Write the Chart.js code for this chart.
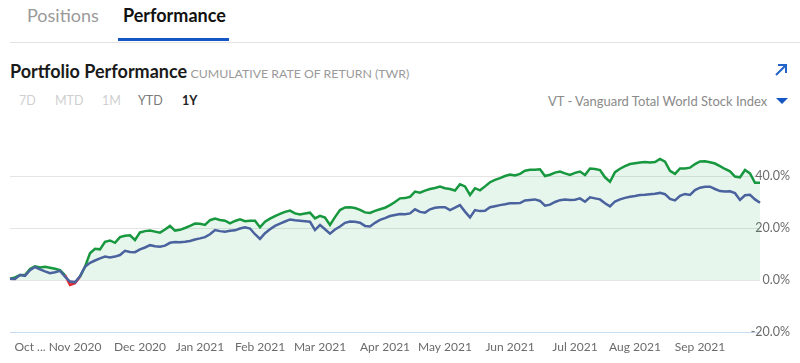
<!DOCTYPE html>
<html>
<head>
<meta charset="utf-8">
<script src="https://cdn.jsdelivr.net/npm/chart.js@4"></script>
<style>
  body{margin:0;width:800px;height:363px;background:#fff;font-family:Lato,"Noto Sans",sans-serif;position:relative;overflow:hidden}
  .abs{position:absolute;white-space:nowrap}
  #chartBox{position:absolute;left:0;top:114px;width:800px;height:249px}
</style>
</head>
<body>
<div class="abs" style="left:27px;top:4px;font-size:18px;color:#9a9a9a">Positions</div>
<div class="abs" style="left:123px;top:4px;font-size:18px;color:#111;font-weight:bold">Performance</div>
<div class="abs" style="left:118px;top:38px;width:111px;height:3px;background:#1456c4"></div>
<div class="abs" style="left:10px;top:42px;width:790px;height:1px;background:#e2e2e2"></div>

<div class="abs" style="left:10px;top:60px;font-size:18px;font-weight:bold;color:#1a1a1a">Portfolio Performance
  <span style="font-size:12.3px;font-weight:normal;color:#9a9a9a;margin-left:-1px">CUMULATIVE RATE OF RETURN (TWR)</span></div>
<svg class="abs" style="left:774px;top:63px" width="14" height="14" viewBox="0 0 14 14">
  <path d="M2 12 L12 2 M4 2 H12 V10" stroke="#2463c7" stroke-width="2" fill="none"/>
</svg>

<div class="abs" style="left:19px;top:93px;font-size:12.5px;color:#cfcfcf">7D</div>
<div class="abs" style="left:55px;top:93px;font-size:12.5px;color:#cfcfcf">MTD</div>
<div class="abs" style="left:102px;top:93px;font-size:12.5px;color:#cfcfcf">1M</div>
<div class="abs" style="left:138px;top:93px;font-size:12.5px;color:#7a7a7a">YTD</div>
<div class="abs" style="left:182px;top:93px;font-size:12.5px;color:#222;font-weight:bold">1Y</div>

<div class="abs" style="left:548px;top:93px;font-size:13px;color:#8a8a8a">VT - Vanguard Total World Stock Index</div>
<svg class="abs" style="left:776px;top:98px" width="12" height="7" viewBox="0 0 12 7">
  <path d="M0 0 H12 L6 6 Z" fill="#1456c4"/>
</svg>

<div id="chartBox"><canvas id="myChart"></canvas></div>

<script>
// tick labels on the month axis, and the point index where each one sits
const monthLabels = ['Oct ...','Nov 2020','Dec 2020','Jan 2021','Feb 2021','Mar 2021','Apr 2021','May 2021','Jun 2021','Jul 2021','Aug 2021','Sep 2021'];
const monthIndex  = [4, 13, 26, 38, 50, 62, 75, 87, 100, 113, 125, 138];

// portfolio cumulative return (%)
const portfolio = [
 0.5,1.0,1.9,1.9,4.2,5.3,4.8,5.1,4.7,4.3,
 3.8,1.9,-1.9,-1.2,1.3,5.1,10.3,12.0,11.8,14.7,
 15.2,14.3,16.5,17.0,17.2,15.4,18.3,18.8,19.0,18.6,
 18.2,19.4,20.8,19.0,19.3,20.0,20.8,21.7,21.6,21.2,
 23.0,23.6,23.1,22.8,21.8,22.7,23.3,22.6,22.8,22.8,
 20.3,22.4,23.6,24.6,25.4,26.2,26.7,25.6,25.2,25.6,
 25.9,23.7,24.7,24.0,21.2,24.2,26.9,27.9,28.0,27.7,
 27.0,26.0,25.8,26.6,27.2,27.8,28.8,30.0,31.4,31.5,
 32.0,34.0,33.6,34.4,35.0,35.4,35.9,35.3,35.0,34.4,
 36.8,36.0,32.7,35.3,34.5,36.0,37.6,38.5,39.2,40.0,
 40.6,40.2,40.8,42.0,42.4,42.4,42.6,40.0,40.5,41.3,
 41.7,41.0,40.4,41.2,41.7,40.4,42.9,42.7,42.3,39.5,
 37.8,41.5,42.8,43.8,44.6,44.9,45.2,45.4,45.2,45.4,
 46.6,45.5,42.0,40.8,42.9,42.9,43.2,44.6,45.6,45.7,
 45.3,44.8,43.8,42.7,41.8,39.8,39.5,42.3,41.0,37.4,
 37.4
];

// VT - Vanguard Total World Stock Index (%)
const benchmark = [
 0.5,0.4,1.9,1.6,3.8,5.0,4.1,3.3,2.6,3.0,
 3.5,1.3,-0.6,-0.9,1.4,5.1,6.6,7.5,8.3,9.0,
 8.7,9.0,9.6,11.2,10.8,10.7,11.8,12.5,13.4,13.0,
 12.8,13.2,14.3,14.6,14.5,14.7,15.0,15.6,16.0,16.5,
 17.6,19.2,18.8,18.6,18.9,19.1,19.8,20.3,19.8,17.6,
 15.8,18.0,19.5,20.8,21.7,22.5,23.3,23.0,22.8,22.6,
 22.4,19.2,21.2,19.5,17.8,19.4,20.6,22.0,22.5,22.4,
 22.0,20.8,20.6,22.0,23.1,23.8,24.6,25.0,25.4,25.3,
 25.6,27.2,26.2,25.9,27.2,27.8,28.0,28.0,26.9,27.8,
 28.8,26.3,24.1,26.9,26.5,26.6,28.0,28.4,28.8,29.1,
 29.5,29.5,29.6,30.6,30.8,31.0,30.4,28.6,29.0,30.0,
 30.7,31.0,30.8,30.9,31.4,30.1,31.8,31.4,31.0,29.5,
 28.3,30.2,31.0,31.6,32.0,32.3,32.7,32.8,33.0,33.2,
 33.5,33.0,31.2,30.6,32.4,33.1,32.7,34.6,35.5,35.9,
 35.9,35.0,34.2,34.0,34.1,33.4,30.8,32.6,32.8,31.0,
 29.7
];

const etiquetas = portfolio.map(() => '');
monthIndex.forEach((idx, k) => { etiquetas[idx] = monthLabels[k]; });

const verde = '#17983f';
const rojo = '#e3262f';

new Chart(document.getElementById('myChart'), {
  type: 'line',
  data: {
    labels: etiquetas,
    datasets: [
      {
        label: 'VT',
        data: benchmark,
        borderColor: '#4a629e',
        borderWidth: 2.5,
        pointRadius: 0,
        tension: 0,
        fill: false,
        order: 0
      },
      {
        label: 'Portfolio',
        data: portfolio,
        borderColor: verde,
        borderWidth: 2.5,
        pointRadius: 0,
        tension: 0,
        fill: { target: 'origin', above: 'rgba(34,170,80,0.11)', below: 'rgba(230,60,80,0.22)' },
        segment: {
          borderColor: c => (c.p0.parsed.y < 0 || c.p1.parsed.y < 0) ? rojo : undefined
        },
        order: 1
      }
    ]
  },
  options: {
    responsive: true,
    maintainAspectRatio: false,
    animation: false,
    layout: { padding: { top: 10, left: 10, right: 10, bottom: 0 } },
    plugins: { legend: { display: false }, tooltip: { enabled: false } },
    scales: {
      x: {
        afterFit: s => { s.height = 31; },
        grid: { display: false },
        border: { display: false },
        ticks: {
          autoSkip: false,
          maxRotation: 0,
          padding: 0,
          color: '#6b6b6b',
          font: { family: 'Lato', size: 12 },
          callback: (v, i) => etiquetas[i]
        }
      },
      y: {
        position: 'right',
        min: -20,
        max: 60,
        afterFit: s => { s.width = 30; s.paddingTop = 0; s.paddingBottom = 0; },
        grid: {
          drawTicks: false,
          lineWidth: 1,
          color: c => c.tick.value === 60 ? 'rgba(0,0,0,0)' : (c.tick.value === -20 ? '#c6dcf2' : '#e4e4e4')
        },
        border: { display: false },
        ticks: {
          stepSize: 20,
          mirror: true,
          padding: 30,
          crossAlign: 'near',
          color: '#6b6b6b',
          font: { family: 'Lato', size: 12.5 },
          callback: v => v === 60 ? '' : v.toFixed(1) + '%'
        }
      }
    }
  }
});
</script>
</body>
</html>
